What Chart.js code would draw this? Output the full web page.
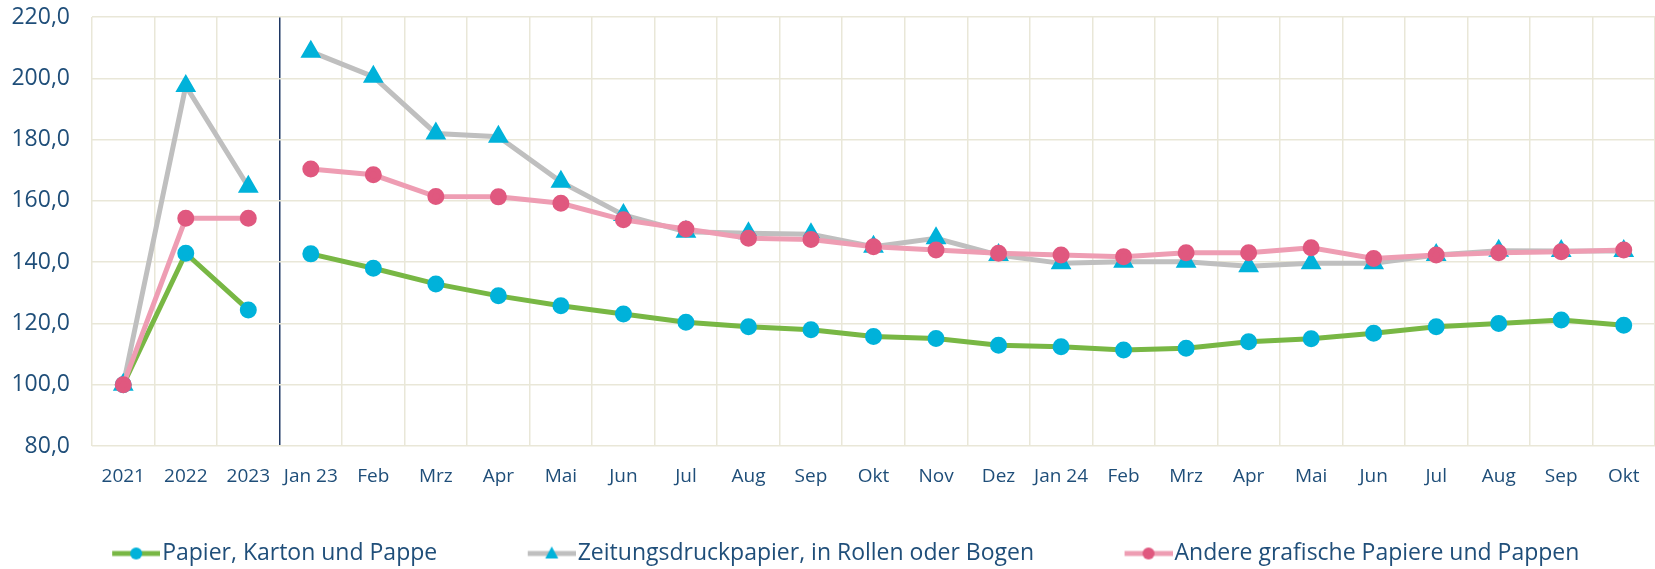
<!DOCTYPE html>
<html>
<head>
<meta charset="utf-8">
<script src="https://cdn.jsdelivr.net/npm/chart.js@4.4.1/dist/chart.umd.min.js"></script>
<style>
  body { margin: 0; background: #fff; }
  canvas { display: block; }
</style>
</head>
<body>
<canvas id="paperChart" width="1655" height="569"></canvas>
<script>
// categories: years, then months 2023 and 2024
const categories = ['2021', '2022', '2023', 'Jan 23', 'Feb', 'Mrz', 'Apr', 'Mai', 'Jun', 'Jul', 'Aug', 'Sep', 'Okt', 'Nov', 'Dez',
  'Jan 24', 'Feb', 'Mrz', 'Apr', 'Mai', 'Jun', 'Jul', 'Aug', 'Sep', 'Okt'];

const papierKarton = [100.0, 142.9, 124.4, 142.7, 138.0, 132.9, 129.0, 125.8, 123.1, 120.4, 118.9, 117.9, 115.7, 115.1, 112.9,
  112.4, 111.3, 111.9, 114.0, 115.0, 116.8, 118.9, 120.0, 121.1, 119.4];
const zeitungsdruck = [100.0, 197.5, 164.6, 208.7, 200.5, 182.0, 180.9, 166.2, 155.4, 149.9, 149.4, 149.1, 145.0, 147.8, 142.3,
  139.6, 140.1, 140.1, 138.7, 139.6, 139.6, 142.3, 143.7, 143.6, 143.6];
const andereGrafische = [100.0, 154.3, 154.3, 170.4, 168.5, 161.4, 161.3, 159.2, 153.8, 150.8, 147.8, 147.4, 145.0, 144.0, 142.9,
  142.3, 141.8, 143.1, 143.1, 144.7, 141.2, 142.3, 143.1, 143.4, 144.0];

const seriesNames = ['Papier, Karton und Pappe', 'Zeitungsdruckpapier, in Rollen oder Bogen', 'Andere grafische Papiere und Pappen'];
const yTicks = [80, 100, 120, 140, 160, 180, 200, 220];

const textColor = '#1F4E79';
const gridColor = '#E9E7D8';
const splitIndex = 3; // dark line between 2023 and Jan 23

const plotBottom = 446;
const xAxisHeight = 42;
const legendFont = 23;
const legendPad = 54;
// legend icons: line with marker, left part transparent to space the items
const boxW = 75;
const makeIcon = (lineColor, pointColor, style) => {
  const c = document.createElement('canvas');
  c.width = boxW + 19;
  c.height = 16;
  const g = c.getContext('2d');
  const x0 = c.width - 48;
  g.strokeStyle = lineColor;
  g.lineWidth = 5;
  g.beginPath();
  g.moveTo(x0, 8);
  g.lineTo(c.width, 8);
  g.stroke();
  g.fillStyle = pointColor;
  const cx = x0 + 24;
  g.beginPath();
  if (style === 'triangle') {
    g.moveTo(cx, 1);
    g.lineTo(cx + 6.5, 13);
    g.lineTo(cx - 6.5, 13);
    g.closePath();
  } else {
    g.arc(cx, 8, 6, 0, Math.PI * 2);
  }
  g.fill();
  return c;
};

const icons = [
  makeIcon('#78B744', '#00B2DA', 'circle'),
  makeIcon('#BFBFBF', '#00B2DA', 'triangle'),
  makeIcon('#EE9DB3', '#E0587F', 'circle')
];

// no connecting line between the yearly and the monthly values
const gapSegment = {
  borderColor: (ctx) => (ctx.p0DataIndex === splitIndex - 1 ? 'rgba(0,0,0,0)' : undefined)
};

const legendFitPlugin = {
  id: 'legendFit',
  beforeInit(chart) {
    const origFit = chart.legend.fit;
    chart.legend.fit = function fit() {
      origFit.bind(chart.legend)();
      this.height = 569 - plotBottom - xAxisHeight;
    };
  }
};

const ctx = document.getElementById('paperChart');
new Chart(ctx, {
  type: 'line',
  data: {
    labels: categories,
    datasets: [
      {
        label: seriesNames[0],
        data: papierKarton,
        borderColor: '#78B744',
        backgroundColor: '#00B2DA',
        pointBackgroundColor: '#00B2DA',
        pointBorderColor: '#00B2DA',
        borderWidth: 5,
        pointRadius: 6,
        pointStyle: 'circle',
        segment: gapSegment,
        order: 1
      },
      {
        label: seriesNames[1],
        data: zeitungsdruck,
        borderColor: '#BFBFBF',
        backgroundColor: '#00B2DA',
        pointBackgroundColor: '#00B2DA',
        pointBorderColor: '#00B2DA',
        borderWidth: 5,
        pointRadius: 7,
        pointStyle: 'triangle',
        segment: gapSegment,
        order: 2
      },
      {
        label: seriesNames[2],
        data: andereGrafische,
        borderColor: '#EE9DB3',
        backgroundColor: '#E0587F',
        pointBackgroundColor: '#E0587F',
        pointBorderColor: '#E0587F',
        borderWidth: 5,
        pointRadius: 6,
        pointStyle: 'circle',
        segment: gapSegment,
        order: 0
      }
    ]
  },
  options: {
    responsive: false,
    animation: false,
    layout: { autoPadding: false, padding: { top: 17, left: 0, right: 0, bottom: 0 } },
    scales: {
      x: {
        offset: true,
        grid: {
          offset: true,
          drawTicks: false,
          lineWidth: 1.5,
          color: (c) => (c.index === splitIndex ? '#1F3864' : gridColor)
        },
        border: { display: false },
        ticks: {
          autoSkip: false,
          maxRotation: 0,
          padding: 19,
          color: textColor,
          font: { family: 'Open Sans', size: 19 }
        },
        afterFit: (axis) => {
          axis.height = xAxisHeight;
          axis.paddingLeft = 0;
          axis.paddingRight = 0;
        }
      },
      y: {
        min: 80,
        max: 220,
        afterBuildTicks: (axis) => { axis.ticks = yTicks.map((v) => ({ value: v })); },
        grid: { drawTicks: false, lineWidth: 1.5, color: gridColor },
        border: { display: false },
        ticks: {
          padding: 22,
          color: textColor,
          font: { family: 'Open Sans', size: 23 },
          callback: (v) => v.toFixed(1).replace('.', ',')
        },
        afterFit: (axis) => {
          axis.width = 92;
          axis.paddingTop = 0;
          axis.paddingBottom = 0;
        }
      }
    },
    plugins: {
      tooltip: { enabled: false },
      legend: {
        position: 'bottom',
        labels: {
          usePointStyle: true,
          pointStyleWidth: boxW,
          padding: legendPad,
          color: textColor,
          font: { family: 'Open Sans', size: legendFont },
          sort: (a, b) => a.datasetIndex - b.datasetIndex,
          generateLabels: (chart) => {
            const items = Chart.defaults.plugins.legend.labels.generateLabels(chart);
            items.forEach((it) => { it.pointStyle = icons[it.datasetIndex]; });
            return items;
          }
        }
      }
    }
  },
  plugins: [legendFitPlugin]
});
</script>
</body>
</html>
